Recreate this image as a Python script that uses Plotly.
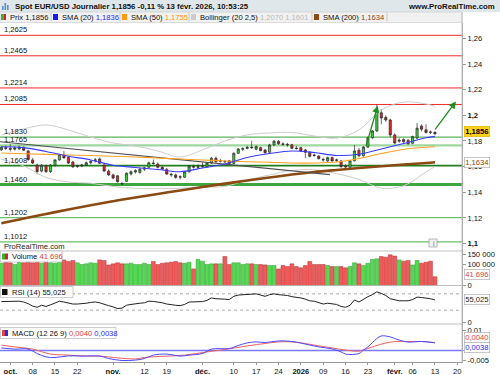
import plotly.graph_objects as go

# ---------------- data ----------------
OPEN = [1.1731, 1.1750, 1.1742, 1.1736, 1.1738, 1.1750, 1.1722, 1.1652, 1.1612, 1.1565,
        1.1607, 1.1562, 1.1610, 1.1652, 1.1690, 1.1672, 1.1636, 1.1602, 1.1605, 1.1612,
        1.1630, 1.1648, 1.1660, 1.1612, 1.1565, 1.1535, 1.1528, 1.1468, 1.1485, 1.1542,
        1.1558, 1.1553, 1.1580, 1.1595, 1.1628, 1.1620, 1.1594, 1.1578, 1.1540, 1.1535,
        1.1520, 1.1517, 1.1560, 1.1600, 1.1595, 1.1598, 1.1600, 1.1628, 1.1665, 1.1642,
        1.1640, 1.1645, 1.1625, 1.1704, 1.1735, 1.1742, 1.1752, 1.1735, 1.1748, 1.1730,
        1.1712, 1.1769, 1.1798, 1.1777, 1.1774, 1.1770, 1.1744, 1.1748, 1.1730, 1.1712,
        1.1690, 1.1682, 1.1656, 1.1644, 1.1670, 1.1648, 1.1644, 1.1604, 1.1595, 1.1645,
        1.1728, 1.1684, 1.1752, 1.1825, 1.1878, 1.2020, 1.1985, 1.1964, 1.1847, 1.1798,
        1.1812, 1.1806, 1.1782, 1.1822, 1.1917, 1.1888, 1.1870, 1.1868]
HIGH = [1.1762, 1.1765, 1.1775, 1.1760, 1.1765, 1.1758, 1.1730, 1.1668, 1.1622, 1.1620,
        1.1615, 1.1620, 1.1658, 1.1700, 1.1722, 1.1680, 1.1645, 1.1615, 1.1622, 1.1640,
        1.1650, 1.1668, 1.1670, 1.1628, 1.1578, 1.1545, 1.1532, 1.1478, 1.1555, 1.1570,
        1.1580, 1.1590, 1.1598, 1.1640, 1.1655, 1.1632, 1.1605, 1.1590, 1.1552, 1.1545,
        1.1532, 1.1568, 1.1612, 1.1615, 1.1618, 1.1632, 1.1635, 1.1675, 1.1680, 1.1660,
        1.1652, 1.1652, 1.1712, 1.1745, 1.1752, 1.1762, 1.1802, 1.1765, 1.1756, 1.1738,
        1.1778, 1.1808, 1.1808, 1.1790, 1.1785, 1.1778, 1.1762, 1.1755, 1.1738, 1.1718,
        1.1702, 1.1690, 1.1670, 1.1678, 1.1678, 1.1662, 1.1652, 1.1618, 1.1650, 1.1768,
        1.1745, 1.1760, 1.1835, 1.1885, 1.2082, 1.2050, 1.2000, 1.1975, 1.1860, 1.1822,
        1.1822, 1.1812, 1.1842, 1.1940, 1.1930, 1.1930, 1.1882, 1.1875]
LOW = [1.1722, 1.1728, 1.1718, 1.1725, 1.1730, 1.1722, 1.1645, 1.1620, 1.1540, 1.1555,
       1.1552, 1.1550, 1.1600, 1.1645, 1.1662, 1.1620, 1.1590, 1.1590, 1.1595, 1.1605,
       1.1618, 1.1630, 1.1620, 1.1560, 1.1528, 1.1502, 1.1475, 1.1455, 1.1480, 1.1530,
       1.1545, 1.1545, 1.1565, 1.1588, 1.1615, 1.1585, 1.1575, 1.1535, 1.1520, 1.1505,
       1.1500, 1.1510, 1.1552, 1.1585, 1.1580, 1.1590, 1.1592, 1.1620, 1.1630, 1.1632,
       1.1628, 1.1618, 1.1620, 1.1698, 1.1722, 1.1735, 1.1738, 1.1728, 1.1718, 1.1700,
       1.1705, 1.1760, 1.1770, 1.1762, 1.1755, 1.1736, 1.1732, 1.1715, 1.1665, 1.1672,
       1.1676, 1.1655, 1.1638, 1.1636, 1.1638, 1.1636, 1.1590, 1.1590, 1.1588, 1.1640,
       1.1672, 1.1678, 1.1745, 1.1815, 1.1870, 1.1930, 1.1950, 1.1830, 1.1775, 1.1785,
       1.1786, 1.1770, 1.1775, 1.1815, 1.1875, 1.1858, 1.1855, 1.1848]
CLOSE = [1.1751, 1.1742, 1.1736, 1.1745, 1.1752, 1.1728, 1.1655, 1.1628, 1.1560, 1.1610,
         1.1560, 1.1612, 1.1652, 1.1694, 1.1668, 1.1628, 1.1598, 1.1606, 1.1612, 1.1630,
         1.1640, 1.1652, 1.1626, 1.1565, 1.1535, 1.1510, 1.1482, 1.1466, 1.1548, 1.1560,
         1.1568, 1.1580, 1.1590, 1.1630, 1.1624, 1.1594, 1.1580, 1.1542, 1.1536, 1.1515,
         1.1518, 1.1560, 1.1605, 1.1596, 1.1598, 1.1603, 1.1628, 1.1665, 1.1638, 1.1644,
         1.1638, 1.1625, 1.1704, 1.1737, 1.1740, 1.1750, 1.1748, 1.1756, 1.1726, 1.1708,
         1.1769, 1.1798, 1.1778, 1.1774, 1.1770, 1.1743, 1.1741, 1.1722, 1.1712, 1.1680,
         1.1688, 1.1662, 1.1653, 1.1670, 1.1644, 1.1652, 1.1600, 1.1598, 1.1645, 1.1722,
         1.1684, 1.1752, 1.1825, 1.1878, 1.2040, 1.1980, 1.1964, 1.1847, 1.1784, 1.1806,
         1.1794, 1.1778, 1.1834, 1.1900, 1.1892, 1.1866, 1.1868, 1.1856]
VOLUME = [106000, 111000, 108000, 100000, 111000, 108000, 116000, 108000, 114000, 106000,
          114000, 108000, 106000, 111000, 122000, 114000, 119000, 108000, 100000, 103000,
          108000, 106000, 122000, 119000, 98000, 103000, 108000, 103000, 103000, 106000,
          100000, 100000, 106000, 100000, 114000, 100000, 106000, 108000, 111000, 114000,
          108000, 106000, 111000, 79000, 124000, 116000, 100000, 103000, 103000, 103000,
          138000, 100000, 108000, 108000, 100000, 103000, 103000, 100000, 100000, 98000,
          95000, 95000, 79000, 95000, 90000, 103000, 90000, 84000, 95000, 114000,
          100000, 100000, 100000, 95000, 90000, 90000, 90000, 84000, 90000, 108000,
          103000, 95000, 106000, 124000, 127000, 138000, 135000, 146000, 140000, 122000,
          116000, 119000, 98000, 119000, 106000, 111000, 116000, 41696]
RSI = [51, 51.5, 51, 51.5, 52, 50, 46, 40, 37, 42,
       39, 43, 48, 52, 50, 47, 45, 45, 45.5, 47,
       49, 50, 48, 44, 41, 38, 34, 35, 42, 44,
       46, 47, 48, 52, 51.5, 50, 48, 45, 43, 42,
       41, 44, 50, 50, 50, 51, 54, 60, 58, 58,
       57, 56, 64, 67, 67.5, 69, 69, 70, 67, 64,
       68, 70, 68, 67, 66, 63, 62, 60, 57, 53,
       52, 49, 45, 47, 45, 44, 39, 37, 42, 55,
       50, 57, 63, 68, 75, 71, 66, 58, 55, 53,
       53, 53, 56, 62, 61, 60, 58, 55.025]

# moving averages / bands read at these bar indices
SAMPLE_IDX = [0, 5, 10, 15, 20, 25, 30, 35, 40, 45, 50, 55, 60, 65, 70, 75, 80, 85, 90, 95, 97]
SMA20 = [1.1755, 1.1748, 1.1718, 1.1681, 1.1652, 1.1610, 1.1593, 1.1577, 1.1560, 1.1589, 1.1620,
         1.1671, 1.1702, 1.1722, 1.1710, 1.1687, 1.1696, 1.1737, 1.1780, 1.1825, 1.1836]
SMA50 = [1.1706, 1.1700, 1.1695, 1.1691, 1.1687, 1.1681, 1.1675, 1.1667, 1.1659, 1.1652, 1.1644,
         1.1638, 1.1634, 1.1628, 1.1628, 1.1636, 1.1663, 1.1702, 1.1734, 1.1751, 1.1755]
SMA200 = [1.1157, 1.1195, 1.1230, 1.1265, 1.1298, 1.1330, 1.1359, 1.1386, 1.1414, 1.1441, 1.1467,
          1.1492, 1.1515, 1.1538, 1.1558, 1.1574, 1.1589, 1.1603, 1.1616, 1.1628, 1.1634]
BB_UP = [1.1847, 1.1894, 1.1925, 1.1886, 1.1831, 1.1784, 1.1761, 1.1722, 1.1675, 1.1730, 1.1800,
         1.1847, 1.1862, 1.1866, 1.1839, 1.1823, 1.1886, 1.2042, 1.2104, 1.2089, 1.2070]
BB_LO = [1.1658, 1.1605, 1.1515, 1.1480, 1.1470, 1.1445, 1.1430, 1.1428, 1.1430, 1.1440, 1.1445,
         1.1495, 1.1535, 1.1570, 1.1575, 1.1545, 1.1500, 1.1432, 1.1450, 1.1558, 1.1601]

MACD_IDX = [0, 3, 6, 8, 10, 12, 15, 18, 22, 24, 27, 30, 32, 34, 37, 40, 42, 45, 47, 51, 53,
            55, 57, 59, 62, 64, 66, 68, 71, 74, 76, 77, 80, 81, 82, 84, 85, 87, 89, 91, 94, 97]
MACD = [0.0013, 0.0007, 0.0007, -0.0015, -0.0032, -0.0035, -0.0027, -0.0028, -0.0028, -0.0040,
        -0.0050, -0.0048, -0.0040, -0.0023, -0.0018, -0.0028, -0.0023, -0.0015, 0.0007, 0.0010,
        0.0025, 0.0038, 0.0043, 0.0040, 0.0048, 0.0047, 0.0042, 0.0032, 0.0018, 0.0008,
        -0.0007, -0.0018, -0.0015, 0.0002, 0.0018, 0.0060, 0.0073, 0.0068, 0.0052, 0.0042,
        0.0045, 0.0038]
SIG_IDX = [0, 3, 7, 11, 15, 19, 22, 26, 30, 32, 37, 41, 46, 50, 55, 59, 62, 65, 68, 71, 74,
           77, 80, 82, 85, 88, 91, 94, 97]
SIGNAL = [0.0027, 0.0018, 0.0007, -0.0018, -0.0023, -0.0028, -0.0028, -0.0037, -0.0042, -0.0035,
          -0.0028, -0.0023, -0.0007, 0.0005, 0.0023, 0.0035, 0.0043, 0.0043, 0.0035, 0.0023,
          0.0013, 0.0002, -0.0003, 0.0010, 0.0032, 0.0045, 0.0045, 0.0045, 0.0040]

TICK_POS = [2, 7, 12, 17, 25, 32, 37, 45, 52, 57, 62, 67, 72, 77, 82, 88, 92, 97, 102]
TICK_TEXT = ["<b>oct.</b>", "08", "15", "22", "<b>nov.</b>", "12", "19", "<b>déc.</b>", "10",
             "17", "24", "<b>2026</b>", "09", "16", "23", "<b>févr.</b>", "06", "13", "20"]
PRICE_TICKS = [1.10, 1.12, 1.14, 1.16, 1.18, 1.20, 1.22, 1.24, 1.26]
PRICE_TICK_TEXT = ["<b>1,1</b>", "1,12", "1,14", "1,16", "1,18", "<b>1,2</b>", "1,22", "1,24", "1,26"]

RED_LEVELS = [1.2625, 1.2465, 1.2214, 1.2085]
GREEN_LEVELS = [1.1830, 1.1765, 1.1608, 1.1460, 1.1202, 1.1012]
TREND_X = [-0.3, 73.5]
TREND_Y = [1.1794, 1.1537]
ARROWS = [((81.5, 1.1750), (84.2, 1.2075)), ((96.8, 1.1878), (101.7, 1.2109))]

# ---------------- helpers ----------------
FONT = "Liberation Sans, Arial, sans-serif"
W_PLOT, TOP, BOT = 462.0, 23.0, 362.0
def PX(x):
    return x / W_PLOT
def PY(y):
    return (BOT - y) / (BOT - TOP)
def fmt4(v):
    return f"{v:.4f}".replace(".", ",")
def fmt_vol(v):
    return f"{int(v):,}".replace(",", " ")

X = list(range(len(CLOSE)))
fig = go.Figure()

for band in (BB_UP, BB_LO):
    fig.add_trace(go.Scatter(x=SAMPLE_IDX, y=band, mode="lines", yaxis="y",
                             line=dict(color="#cdcdcd", width=1, shape="spline"), hoverinfo="skip"))
fig.add_trace(go.Scatter(x=SAMPLE_IDX, y=SMA200, mode="lines", yaxis="y",
                         line=dict(color="#8a4a12", width=2.6, shape="spline"), hoverinfo="skip"))
fig.add_trace(go.Scatter(x=TREND_X, y=TREND_Y, mode="lines", yaxis="y",
                         line=dict(color="#505050", width=1.1), hoverinfo="skip"))
fig.add_trace(go.Scatter(x=SAMPLE_IDX, y=SMA50, mode="lines", yaxis="y",
                         line=dict(color="#ffa21f", width=1.1, shape="spline"), hoverinfo="skip"))
fig.add_trace(go.Scatter(x=SAMPLE_IDX, y=SMA20, mode="lines", yaxis="y",
                         line=dict(color="#3a3aff", width=1.1, shape="spline"), hoverinfo="skip"))

fig.add_trace(go.Candlestick(
    x=X, open=OPEN, high=HIGH, low=LOW, close=CLOSE, yaxis="y", whiskerwidth=0,
    increasing=dict(fillcolor="#3dd03d", line=dict(color="#2b2b2b", width=0.7)),
    decreasing=dict(fillcolor="#e62626", line=dict(color="#2b2b2b", width=0.7))))

vcol = ["#55d955" if c >= o else "#ef5a5a" for o, c in zip(OPEN, CLOSE)]
vedge = ["#2f9f2f" if c >= o else "#b83030" for o, c in zip(OPEN, CLOSE)]
fig.add_trace(go.Bar(x=X, y=VOLUME, yaxis="y2", marker=dict(color=vcol, line=dict(color=vedge, width=0.5))))

fig.add_trace(go.Scatter(x=X, y=RSI, mode="lines", yaxis="y3", line=dict(color="#222222", width=1)))

fig.add_trace(go.Scatter(x=SIG_IDX, y=SIGNAL, mode="lines", yaxis="y4",
                         line=dict(color="#f06060", width=1, shape="spline")))
fig.add_trace(go.Scatter(x=MACD_IDX, y=MACD, mode="lines", yaxis="y4",
                         line=dict(color="#4a4aff", width=1, shape="spline")))

shapes = []
for lv in RED_LEVELS:
    shapes.append(dict(type="line", xref="paper", yref="y", x0=0, x1=1, y0=lv, y1=lv,
                       line=dict(color="#ee2a2a", width=1), layer="below"))
g_style = [("#5cb35c", 1.3), ("#9dd89d", 2.2), ("#1f7f1f", 1.8), ("#3fa53f", 3), ("#6cbf6c", 1.2), ("#6cbf6c", 1.2)]
for lv, (c, w) in zip(GREEN_LEVELS, g_style):
    shapes.append(dict(type="line", xref="paper", yref="y", x0=0, x1=1, y0=lv, y1=lv,
                       line=dict(color=c, width=w), layer="below"))
for v in (70, 30):
    shapes.append(dict(type="line", xref="paper", yref="y3", x0=0, x1=1, y0=v, y1=v,
                       line=dict(color="#aaaaaa", width=1, dash="dot"), layer="below"))
shapes.append(dict(type="line", xref="paper", yref="y4", x0=0, x1=1, y0=0, y1=0,
                   line=dict(color="#7a7aff", width=1.5), layer="below"))

shapes.append(dict(type="rect", xref="paper", yref="paper", x0=PX(0), x1=PX(500), y0=PY(12), y1=PY(0),
                   fillcolor="#e0e7eb", line=dict(width=0), layer="below"))
shapes.append(dict(type="rect", xref="paper", yref="paper", x0=PX(0), x1=PX(462), y0=PY(22.5), y1=PY(12),
                   fillcolor="#f1f1f1", line=dict(color="#c8c8c8", width=0.6), layer="below"))
for (x0, h) in [(2, 4), (4.5, 7), (7, 5)]:
    shapes.append(dict(type="rect", xref="paper", yref="paper", x0=PX(x0), x1=PX(x0 + 1.6),
                       y0=PY(10), y1=PY(10 - h), fillcolor="#5a8fd0", line=dict(width=0)))
for sx in (51, 120, 189, 312, 387):
    shapes.append(dict(type="line", xref="paper", yref="paper", x0=PX(sx), x1=PX(sx), y0=PY(21.5), y1=PY(12.5),
                       line=dict(color="#c0c0c0", width=0.8)))
def swatch(x, y, c, w=5, h=6):
    shapes.append(dict(type="rect", xref="paper", yref="paper", x0=PX(x), x1=PX(x + w),
                       y0=PY(y + h / 2), y1=PY(y - h / 2), fillcolor=c, line=dict(width=0)))
swatch(1, 17, "#2fb52f", 2.5); swatch(3.5, 17, "#e02020", 2.5)
swatch(53, 17, "#1a1aee"); swatch(122, 17, "#ff9a10"); swatch(191, 17, "#cccccc"); swatch(314, 17, "#8a4a12")

for yy in (251, 285.5, 324):
    shapes.append(dict(type="line", xref="paper", yref="paper", x0=0, x1=1, y0=PY(yy), y1=PY(yy),
                       line=dict(color="#b0b0b0", width=0.8)))
shapes.append(dict(type="line", xref="paper", yref="paper", x0=1, x1=1, y0=PY(362), y1=PY(12),
                   line=dict(color="#b0b0b0", width=0.8)))
for (x1, yc) in [(62, 256.5), (73, 292), (116, 333)]:
    shapes.append(dict(type="rect", xref="paper", yref="paper", x0=PX(0.5), x1=PX(x1),
                       y0=PY(yc + 5.5), y1=PY(yc - 5.5), fillcolor="rgba(255,255,255,0.9)",
                       line=dict(color="#b8b8b8", width=0.7)))
swatch(2, 256.5, "#2fb52f", 3); swatch(5, 256.5, "#e02020", 3)
swatch(2, 292, "#111111", 5.5)
swatch(2, 333, "#e04040", 3); swatch(5, 333, "#2a2af0", 3)
shapes.append(dict(type="rect", xref="paper", yref="paper", x0=PX(429), x1=PX(437), y0=PY(247), y1=PY(239),
                   fillcolor="#f4f4f4", line=dict(color="#999999", width=0.7)))

ann = []
def text(x, y, s, size=7.5, color="#111111", anchor="left", bold=False):
    ann.append(dict(xref="paper", yref="paper", x=PX(x), y=PY(y), text=(f"<b>{s}</b>" if bold else s),
                    showarrow=False, xanchor=anchor, yanchor="middle",
                    font=dict(family=FONT, size=size, color=color)))

text(13, 6, "Spot EUR/USD Journalier " + fmt4(CLOSE[-1]) + " -0,11 % 13 févr. 2026, 10:53:25", 7.8, bold=True)
text(497, 6, "www.ProRealTime.com", 7.8, anchor="right", bold=True)
text(8, 17.2, "Prix " + fmt4(CLOSE[-1]), 7.6)
text(59.5, 17.2, "SMA (20) <span style='color:#2828ff'>" + fmt4(SMA20[-1]) + "</span>", 7.6)
text(128.5, 17.2, "SMA (50) <span style='color:#ff9400'>" + fmt4(SMA50[-1]) + "</span>", 7.6)
text(197.5, 17.2, "Bollinger (20 2,5) <span style='color:#b8b8b8'>" + fmt4(BB_UP[-1]) + " " + fmt4(BB_LO[-1]) + "</span>", 7.6)
text(320.5, 17.2, "SMA (200) <span style='color:#8a4a12'>" + fmt4(SMA200[-1]) + "</span>", 7.6)
text(1.5, 246.5, "ProRealTime.com", 7.6, color="#222222")
text(433, 243, "i", 6.5, color="#666666", anchor="center")
text(9.5, 256.8, "Volume <span style='color:#e03a3a'>" + fmt_vol(VOLUME[-1]) + "</span>", 7.6)
text(9.5, 292.3, "RSI (14) " + f"{RSI[-1]:.3f}".replace(".", ","), 7.6)
text(9.5, 333.3, "MACD (12 26 9) <span style='color:#e03a3a'>" + fmt4(SIGNAL[-1]) +
     "</span> <span style='color:#2a2af0'>" + fmt4(MACD[-1]) + "</span>", 7.6)

for lv in RED_LEVELS + GREEN_LEVELS:
    ann.append(dict(xref="paper", yref="y", x=PX(2), y=lv, yshift=5.5, text=fmt4(lv), showarrow=False,
                    xanchor="left", yanchor="middle", font=dict(family=FONT, size=7.6, color="#111111")))

def vbox(y, yref, s, color, bg, border, yshift=0, bold=False):
    ann.append(dict(xref="paper", yref=yref, x=PX(463.5), y=y, yshift=yshift,
                    text=(f"<b>{s}</b>" if bold else s), showarrow=False, xanchor="left", yanchor="middle",
                    bgcolor=bg, bordercolor=border, borderwidth=0.7, borderpad=0.5,
                    font=dict(family=FONT, size=7.6, color=color)))
vbox(SMA200[-1], "y", fmt4(SMA200[-1]), "#8a4a12", "#ffffff", "#b0b0b0", -0.5)
vbox(CLOSE[-1], "y", fmt4(CLOSE[-1]), "#000000", "#ffd21a", "#e0b000", 2.5, bold=True)
vbox(VOLUME[-1], "y2", fmt_vol(VOLUME[-1]), "#e03a3a", "#ffffff", "#b0b0b0", 2)
vbox(RSI[-1], "y3", f"{RSI[-1]:.3f}".replace(".", ","), "#222222", "#ffffff", "#b0b0b0")
vbox(SIGNAL[-1], "y4", fmt4(SIGNAL[-1]), "#e03a3a", "#ffffff", "#b0b0b0", 5)
vbox(MACD[-1], "y4", fmt4(MACD[-1]), "#2a2af0", "#ffffff", "#b0b0b0", -5)

for (tx, ty), (hx, hy) in ARROWS:
    ann.append(dict(x=hx, y=hy, ax=tx, ay=ty, xref="x", yref="y", axref="x", ayref="y", text="",
                    showarrow=True, arrowhead=2, arrowsize=1.1, arrowwidth=1.3, arrowcolor="#1f8f1f"))

axis_common = dict(side="right", anchor="x", showgrid=False, zeroline=False, showline=True, automargin=False,
                   linecolor="#b0b0b0", linewidth=0.8, ticks="outside", ticklen=3, tickcolor="#999999",
                   tickfont=dict(family=FONT, size=7.6, color="#111111"), fixedrange=True)

fig.update_layout(
    width=500, height=375, margin=dict(l=0, r=38, t=23, b=13, autoexpand=False),
    paper_bgcolor="white", plot_bgcolor="white", showlegend=False, bargap=0.12,
    font=dict(family=FONT, size=7.6, color="#111111"),
    xaxis=dict(domain=[0, 1], range=[-0.3, 103.05], anchor="y4", tickvals=TICK_POS, ticktext=TICK_TEXT,
               showgrid=False, zeroline=False, showline=True, linecolor="#999999", linewidth=0.8,
               ticks="outside", ticklen=2, tickcolor="#999999", automargin=False,
               tickfont=dict(family=FONT, size=7.6, color="#111111"),
               rangeslider=dict(visible=False), fixedrange=True),
    yaxis=dict(domain=[0.32743, 1], range=[1.0941, 1.2721], tickvals=PRICE_TICKS,
               ticktext=PRICE_TICK_TEXT, **axis_common),
    yaxis2=dict(domain=[0.22566, 0.32743], range=[0, 164300], tickvals=[0, 100000, 150000],
                ticktext=["0", "100 000", "150 000"], **axis_common),
    yaxis3=dict(domain=[0.11209, 0.22566], range=[-4, 90.5], tickvals=[0], ticktext=["0"], **axis_common),
    yaxis4=dict(domain=[0, 0.11209], range=[-0.00575, 0.01325], tickvals=[-0.005, 0, 0.01],
                ticktext=["-0,005", "0", "0,01"], **axis_common),
    shapes=shapes, annotations=ann,
)

fig.write_html("out.html", config={"displayModeBar": False},
               post_script="document.body.style.margin='0';document.body.style.padding='0';")
